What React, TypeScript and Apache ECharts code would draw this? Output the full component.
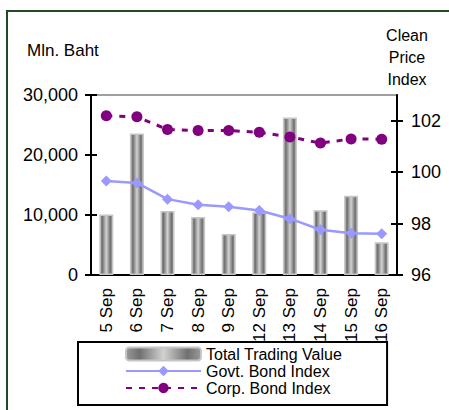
import React, { useEffect, useRef } from "react";
import * as echarts from "echarts";

const categories = ["5 Sep", "6 Sep", "7 Sep", "8 Sep", "9 Sep", "12 Sep", "13 Sep", "14 Sep", "15 Sep", "16 Sep"];
const tradingValue = [10100, 23600, 10650, 9650, 6850, 10450, 26250, 10800, 13200, 5450];
const govtIndex = [99.66, 99.58, 98.95, 98.73, 98.65, 98.51, 98.19, 97.76, 97.62, 97.6];
const corpIndex = [102.19, 102.15, 101.66, 101.62, 101.62, 101.55, 101.37, 101.13, 101.29, 101.28];
const leftTicks = [0, 10000, 20000, 30000];
const rightTicks = [96, 98, 100, 102];

const FONT = "'Liberation Sans', Arial, sans-serif";

export default function App() {
  const ref = useRef<HTMLDivElement>(null);
  useEffect(() => {
    document.body.style.margin = "0";
    const chart = echarts.init(ref.current!, null, { renderer: "svg" });
    const barGradient = new echarts.graphic.LinearGradient(0, 0, 1, 0, [
      { offset: 0, color: "#9a9a9a" },
      { offset: 0.18, color: "#707070" },
      { offset: 0.5, color: "#d2d2d2" },
      { offset: 0.82, color: "#707070" },
      { offset: 1, color: "#9a9a9a" },
    ]);
    const fmt = (v: number) => v.toLocaleString("en-US");
    chart.setOption({
      animation: false,
      backgroundColor: "#ffffff",
      textStyle: { fontFamily: FONT },
      grid: {
        left: 91,
        right: 52,
        top: 95,
        bottom: 135,
        show: true,
        borderColor: "#a0a0a0",
        borderWidth: 2,
        backgroundColor: "transparent",
      },
      graphic: [
        {
          type: "rect",
          shape: { x: 7, y: 11, width: 500, height: 500 },
          style: { fill: "none", stroke: "#1f4a22", lineWidth: 2 },
          silent: true,
        },
        {
          type: "text",
          x: 27,
          y: 50,
          style: { text: "Mln. Baht", fontSize: 17, fontFamily: FONT, fill: "#000", textVerticalAlign: "middle" },
        },
        {
          type: "text",
          x: 407,
          y: 57,
          style: {
            text: "Clean\nPrice\nIndex",
            fontSize: 16,
            lineHeight: 22,
            fontFamily: FONT,
            fill: "#000",
            textAlign: "center",
            textVerticalAlign: "middle",
          },
        },
      ],
      legend: {
        orient: "vertical",
        left: 78,
        top: 342,
        padding: [4, 45, 9, 47],
        itemWidth: 75,
        itemHeight: 13,
        itemGap: 1,
        backgroundColor: "#ffffff",
        borderColor: "#000000",
        borderWidth: 2,
        borderRadius: 0,
        textStyle: { fontSize: 16, color: "#000", fontFamily: FONT },
        data: ["Total Trading Value", "Govt. Bond Index", "Corp. Bond Index"],
      },
      xAxis: {
        type: "category",
        data: categories,
        axisLine: { lineStyle: { color: "#000", width: 2 } },
        axisTick: { show: false },
        axisLabel: { rotate: 90, fontSize: 17, color: "#000", margin: 13, fontFamily: FONT },
      },
      yAxis: [
        {
          type: "value",
          min: 0,
          max: 30000,
          interval: 10000,
          position: "left",
          axisLine: { show: true, lineStyle: { color: "#000", width: 2 } },
          axisTick: { show: true, length: 6, lineStyle: { color: "#000", width: 2 }, customValues: leftTicks },
          axisLabel: { fontSize: 18, color: "#000", margin: 13, formatter: fmt, customValues: leftTicks, fontFamily: FONT },
          splitLine: { show: false },
        },
        {
          type: "value",
          min: 96,
          max: 103,
          interval: 2,
          position: "right",
          axisLine: { show: true, lineStyle: { color: "#000", width: 2 } },
          axisTick: { show: true, length: 6, lineStyle: { color: "#000", width: 2 }, customValues: rightTicks },
          axisLabel: { fontSize: 18, color: "#000", margin: 14, customValues: rightTicks, fontFamily: FONT },
          splitLine: { show: false },
        },
        {
          type: "value",
          min: 96,
          max: 103,
          interval: 2,
          position: "right",
          axisLine: { show: false },
          axisTick: { show: true, inside: true, length: 6, lineStyle: { color: "#000", width: 2 }, customValues: rightTicks },
          axisLabel: { show: false },
          splitLine: { show: false },
        },
        {
          type: "value",
          min: 0,
          max: 30000,
          interval: 10000,
          position: "left",
          axisLine: { show: false },
          axisTick: { show: true, inside: true, length: 6, lineStyle: { color: "#000", width: 2 }, customValues: leftTicks },
          axisLabel: { show: false },
          splitLine: { show: false },
        },
      ],
      series: [
        {
          name: "Total Trading Value",
          type: "bar",
          yAxisIndex: 0,
          data: tradingValue,
          barWidth: 14,
          itemStyle: { color: barGradient, borderColor: "#c6c6c6", borderWidth: 1.5 },
          z: 1,
        },
        {
          name: "Govt. Bond Index",
          type: "line",
          yAxisIndex: 1,
          data: govtIndex,
          symbol: "diamond",
          symbolSize: 11,
          lineStyle: { color: "#9999ff", width: 2.5 },
          itemStyle: { color: "#9999ff" },
          z: 3,
        },
        {
          name: "Corp. Bond Index",
          type: "line",
          yAxisIndex: 1,
          data: corpIndex,
          symbol: "circle",
          symbolSize: 11,
          lineStyle: { color: "#800080", width: 3, type: [6, 7] },
          itemStyle: { color: "#800080" },
          z: 4,
        },
      ],
    });
    return () => chart.dispose();
  }, []);
  return <div ref={ref} style={{ width: 449, height: 410 }} />;
}
